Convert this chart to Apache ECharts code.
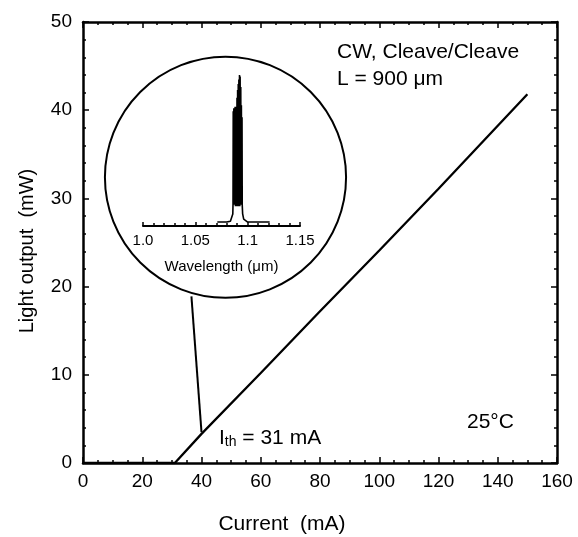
<!DOCTYPE html>
<html><head><meta charset="utf-8">
<script src="https://cdn.jsdelivr.net/npm/echarts@6/dist/echarts.min.js"></script>
<style>html,body{margin:0;padding:0;background:#fff}#c{width:578px;height:537px}</style>
</head><body><div id="c"></div>
<script>
// Main L-I curve
const lightCurrent = [0, 31, 40, 60, 80, 100, 120, 150];
const lightOutput  = [0, 0, 3.3, 10.2, 17.2, 24.1, 31.1, 41.8];
// Pointer line from inset circle to curve
const pointerCurrent = [36.6, 40];
const pointerOutput  = [18.9, 3.5];
// Inset spectrum (wavelength in um, relative intensity)
const specWavelength = [1.071, 1.080, 1.0835, 1.0850, 1.0858,
  1.0860, 1.0862, 1.0865, 1.0868, 1.0871, 1.0874, 1.0877, 1.0880, 1.0883, 1.0886, 1.0889, 1.0892, 1.0895,
  1.0898, 1.0901, 1.0904, 1.0907, 1.0910, 1.0913, 1.0916, 1.0919, 1.0922, 1.0925, 1.0928, 1.0931, 1.0934,
  1.0937, 1.0940, 1.0943, 1.0946, 1.0948,
  1.0952, 1.0962, 1.0980, 1.100, 1.121];
const specIntensity = [2.6, 2.6, 3.2, 4.5, 8,
  14, 76, 14, 78, 14, 77, 14, 79, 13, 78, 13, 79, 13,
  85, 13, 90, 13, 94, 13, 97, 13, 100, 13, 99, 14, 92,
  14, 80, 14, 72, 14,
  8, 4.5, 3.2, 2.6, 2.6];
const insetTickLabels = {'1': '1.0', '1.05': '1.05', '1.1': '1.1', '1.15': '1.15'};
// Inset circle (data coords of main axes)
const circleCenter = [48.1, 32.4];
const circleRadiusMA = 40.7;

const FONT = 'Liberation Sans, Arial, Helvetica, sans-serif';
const zip = (a, b) => a.map((v, i) => [v, b[i]]);

const chart = echarts.init(document.getElementById('c'), null, {renderer: 'canvas'});

const mainAxisCommon = {
  axisLine: {onZero: false, lineStyle: {color: '#000', width: 2.5}},
  axisTick: {inside: true, length: 6, lineStyle: {color: '#000', width: 1.5}},
  minorTick: {show: true, length: 3, lineStyle: {color: '#000', width: 1.5}},
  splitLine: {show: false},
  axisLabel: {color: '#000', fontSize: 19, fontFamily: FONT}
};

const option = {
  animation: false,
  backgroundColor: '#fff',
  grid: [
    {left: 83, right: 21, top: 22, bottom: 74},
    {left: 143, width: 157, top: 75, bottom: 311}
  ],
  xAxis: [
    Object.assign({}, mainAxisCommon, {gridIndex: 0, type: 'value', min: 0, max: 160, interval: 20,
      minorTick: Object.assign({}, mainAxisCommon.minorTick, {splitNumber: 4}),
      axisLabel: Object.assign({}, mainAxisCommon.axisLabel, {margin: 9})}),
    Object.assign({}, mainAxisCommon, {gridIndex: 0, type: 'value', position: 'top', min: 0, max: 160, interval: 20,
      minorTick: Object.assign({}, mainAxisCommon.minorTick, {splitNumber: 4}),
      axisLabel: {show: false}}),
    {gridIndex: 1, type: 'value', min: 1.0, max: 1.15, interval: 0.05,
      axisLine: {onZero: false, lineStyle: {color: '#000', width: 2}},
      axisTick: {inside: true, length: 4, lineStyle: {color: '#000', width: 1.5}},
      minorTick: {show: true, splitNumber: 5, length: 3, lineStyle: {color: '#000', width: 1.5}},
      splitLine: {show: false},
      axisLabel: {color: '#000', fontSize: 15, fontFamily: FONT, margin: 7,
        formatter: v => insetTickLabels[String(Math.round(v * 100) / 100)] || String(v)},
      name: 'Wavelength (\u03bcm)', nameLocation: 'middle', nameGap: 33,
      nameTextStyle: {color: '#000', fontSize: 15, fontFamily: FONT}}
  ],
  yAxis: [
    Object.assign({}, mainAxisCommon, {gridIndex: 0, type: 'value', min: 0, max: 50, interval: 10,
      minorTick: Object.assign({}, mainAxisCommon.minorTick, {splitNumber: 5}),
      axisLabel: Object.assign({}, mainAxisCommon.axisLabel, {margin: 11})}),
    Object.assign({}, mainAxisCommon, {gridIndex: 0, type: 'value', position: 'right', min: 0, max: 50, interval: 10,
      minorTick: Object.assign({}, mainAxisCommon.minorTick, {splitNumber: 5}),
      axisLabel: {show: false}}),
    {gridIndex: 1, type: 'value', min: 0, max: 100, show: false}
  ],
  series: [
    {type: 'line', xAxisIndex: 0, yAxisIndex: 0, data: zip(lightCurrent, lightOutput),
      symbol: 'none', lineStyle: {color: '#000', width: 2.3}},
    {type: 'line', xAxisIndex: 0, yAxisIndex: 0, data: zip(pointerCurrent, pointerOutput),
      symbol: 'none', lineStyle: {color: '#000', width: 2}},
    {type: 'line', xAxisIndex: 2, yAxisIndex: 2, data: zip(specWavelength, specIntensity),
      symbol: 'none', lineStyle: {color: '#000', width: 1.6}}
  ]
};
chart.setOption(option);

const c0 = chart.convertToPixel({xAxisIndex: 0, yAxisIndex: 0}, circleCenter);
const c1 = chart.convertToPixel({xAxisIndex: 0, yAxisIndex: 0}, [circleCenter[0] + circleRadiusMA, circleCenter[1]]);
const r = c1[0] - c0[0];

const txt = (x, y, text, size, extra) => ({
  type: 'text', x: x, y: y,
  style: Object.assign({text: text, fill: '#000', font: size + 'px ' + FONT, verticalAlign: 'middle', align: 'left'}, extra || {})
});

chart.setOption({
  graphic: [
    {type: 'circle', shape: {cx: c0[0], cy: c0[1], r: r}, style: {fill: 'none', stroke: '#000', lineWidth: 2}, z: 1},
    txt(337, 52, 'CW, Cleave/Cleave', 21),
    txt(337, 79, 'L = 900 \u03bcm', 21),
    txt(467, 422, '25\u00b0C', 21),
    {type: 'text', x: 219, y: 449,
      style: {text: '{a|I}{b|th}{a| = 31 mA}', verticalAlign: 'bottom', align: 'left',
        rich: {a: {fontSize: 21, fontFamily: FONT, fill: '#000', verticalAlign: 'bottom'},
               b: {fontSize: 14, fontFamily: FONT, fill: '#000', verticalAlign: 'bottom'}}}},
    txt(282, 524, 'Current  (mA)', 21, {align: 'center'}),
    {type: 'text', x: 27, y: 251, rotation: Math.PI / 2,
      style: {text: 'Light output  (mW)', fill: '#000', font: '20px ' + FONT, align: 'center', verticalAlign: 'middle'}}
  ]
});
</script></body></html>
